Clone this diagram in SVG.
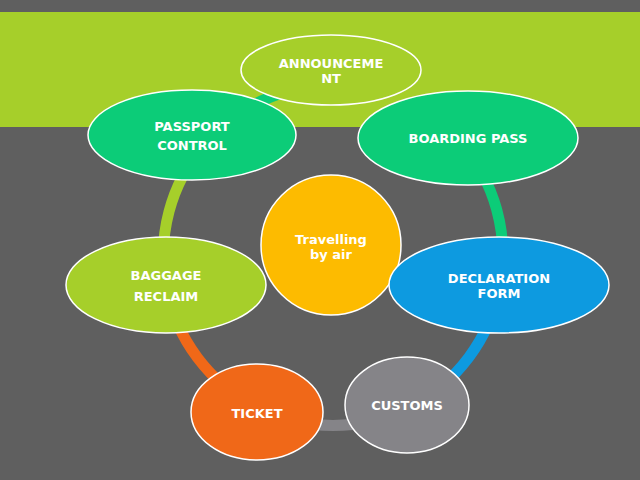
<svg xmlns="http://www.w3.org/2000/svg" width="640" height="480" viewBox="0 0 640 480">
<style>
.n{stroke:#fff;stroke-width:1.5}
.t{fill:#fff;font-family:"DejaVu Sans",sans-serif;font-weight:bold;font-size:13px;text-anchor:middle}
.a{fill:none;stroke-width:11}
</style>
<rect width="640" height="480" fill="#5f5f5f"/>
<rect x="0" y="12" width="640" height="115" fill="#a6cf2a"/>
<g id="connectors">
<path class="a" stroke="#a6cf2a" d="M333,85 A170,170 0 0 1 461,143"/>
<path class="a" stroke="#0ccc78" d="M461,143 A170,170 0 0 1 500,285"/>
<path class="a" stroke="#0d9ae0" d="M500,285 A170,170 0 0 1 408,408"/>
<path class="a" stroke="#858488" d="M408,408 A170,170 0 0 1 258,408"/>
<path class="a" stroke="#f06818" d="M258,408 A170,170 0 0 1 166,285"/>
<path class="a" stroke="#a6cf2a" d="M166,285 A170,170 0 0 1 203,146"/>
<path class="a" stroke="#0ccc78" d="M203,146 A170,170 0 0 1 333,85"/>
</g>
<g id="announcement"><ellipse class="n" cx="331" cy="70" rx="90" ry="35" fill="#a6cf2a"/><text class="t" x="331" y="68">ANNOUNCEME</text><text class="t" x="331" y="83">NT</text></g>
<g id="passport"><ellipse class="n" cx="192" cy="135" rx="104" ry="45" fill="#0ccc78"/><text class="t" x="192" y="131">PASSPORT</text><text class="t" x="192" y="150">CONTROL</text></g>
<g id="boarding"><ellipse class="n" cx="468" cy="138" rx="110" ry="47" fill="#0ccc78"/><text class="t" x="468" y="143">BOARDING PASS</text></g>
<g id="travelling"><circle class="n" cx="331" cy="245" r="70" fill="#fdbb00"/><text class="t" x="331" y="244">Travelling</text><text class="t" x="331" y="259">by air</text></g>
<g id="baggage"><ellipse class="n" cx="166" cy="285" rx="100" ry="48" fill="#a6cf2a"/><text class="t" x="166" y="280">BAGGAGE</text><text class="t" x="166" y="301">RECLAIM</text></g>
<g id="declaration"><ellipse class="n" cx="499" cy="285" rx="110" ry="48" fill="#0d9ae0"/><text class="t" x="499" y="283">DECLARATION</text><text class="t" x="499" y="298">FORM</text></g>
<g id="customs"><ellipse class="n" cx="407" cy="405" rx="62" ry="48" fill="#858488"/><text class="t" x="407" y="410">CUSTOMS</text></g>
<g id="ticket"><ellipse class="n" cx="257" cy="412" rx="66" ry="48" fill="#f06818"/><text class="t" x="257" y="418">TICKET</text></g>
</svg>
